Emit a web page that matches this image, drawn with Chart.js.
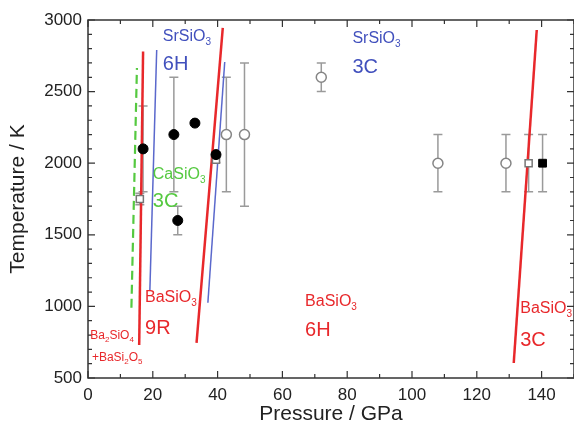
<!DOCTYPE html>
<html>
<head>
<meta charset="utf-8">
<script src="https://cdn.jsdelivr.net/npm/chart.js@4.4.0/dist/chart.umd.min.js"></script>
<style>
  html, body { margin: 0; padding: 0; background: #fff; overflow: hidden; }
  #wrap { width: 574px; height: 427px; position: relative; }
  canvas { display: block; }
</style>
</head>
<body>
<div id="wrap"><canvas id="chartPhase"></canvas></div>
<script>
(function() {
    'use strict';

    // tick labels
    var xTicks = [0, 20, 40, 60, 80, 100, 120, 140];
    var yTicks = [500, 1000, 1500, 2000, 2500, 3000];

    // measured points (pressure GPa, temperature K, +/- error K)
    var filledCircleP = [17, 26.5, 33, 39.5, 27.7];
    var filledCircleT = [2100, 2200, 2280, 2060, 1600];
    var filledCircleErr = [300, 400, 0, 20, 100];

    var openCircleP = [42.7, 48.3, 72, 108, 129];
    var openCircleT = [2200, 2200, 2600, 2000, 2000];
    var openCircleErr = [400, 500, 100, 200, 200];

    var openSquareP = [16, 39.5, 136];
    var openSquareT = [1750, 2025, 2000];
    var openSquareErr = [40, 20, 200];

    var filledSquareP = [140.3];
    var filledSquareT = [2000];
    var filledSquareErr = [200];

    // phase boundaries
    var caBoundaryP = [13.4, 15.1];
    var caBoundaryT = [990, 2665];
    var ba9RBoundaryP = [15.8, 17];
    var ba9RBoundaryT = [730, 2780];
    var sr6HLeftP = [19.1, 21.2];
    var sr6HLeftT = [1115, 2790];
    var ba6HBoundaryP = [33.5, 41.6];
    var ba6HBoundaryT = [745, 2945];
    var sr6HRightP = [37, 42.2];
    var sr6HRightT = [1025, 2707];
    var ba3CBoundaryP = [131.4, 138.5];
    var ba3CBoundaryT = [605, 2930];

    function pts(xs, ys) {
        return xs.map(function(x, i) { return { x: x, y: ys[i] }; });
    }

    var RED = '#e8282b', BLUE = '#4150bd', GREEN = '#55c940';
    var FONT = '"Liberation Sans", Arial, sans-serif';

    // phase-region labels, "_3" marks a subscript
    var labels = [
        { x: 23.1, y: 2881, text: 'SrSiO_3', size: 16, color: BLUE },
        { x: 23.1, y: 2686, text: '6H', size: 20, color: BLUE },
        { x: 81.6, y: 2867, text: 'SrSiO_3', size: 16, color: BLUE },
        { x: 81.6, y: 2665, text: '3C', size: 20, color: BLUE },
        { x: 20.0, y: 1918, text: 'CaSiO_3', size: 16, color: GREEN },
        { x: 20.0, y: 1736, text: '3C', size: 20, color: GREEN },
        { x: 17.6, y: 1059, text: 'BaSiO_3', size: 16, color: RED },
        { x: 17.6, y: 849, text: '9R', size: 20, color: RED },
        { x: 0.7, y: 793, text: 'Ba_2SiO_4', size: 12, color: RED },
        { x: 1.2, y: 640, text: '+BaSi_2O_5', size: 12, color: RED },
        { x: 67, y: 1031, text: 'BaSiO_3', size: 16, color: RED },
        { x: 67, y: 835, text: '6H', size: 20, color: RED },
        { x: 133.4, y: 982, text: 'BaSiO_3', size: 16, color: RED },
        { x: 133.4, y: 765, text: '3C', size: 20, color: RED }
    ];

    function drawLabel(ctx, x, y, text, size, color) {
        var parts = text.split(/(_\d)/);
        ctx.fillStyle = color;
        ctx.textBaseline = 'middle';
        ctx.textAlign = 'left';
        var cx = x;
        parts.forEach(function(p) {
            if (!p) return;
            if (p.charAt(0) === '_') {
                var s = Math.round(size * 0.65);
                ctx.font = s + 'px ' + FONT;
                ctx.fillText(p.slice(1), cx, y + size * 0.35);
                cx += ctx.measureText(p.slice(1)).width;
            } else {
                ctx.font = size + 'px ' + FONT;
                ctx.fillText(p, cx, y);
                cx += ctx.measureText(p).width;
            }
        });
    }

    var errorBars = {
        id: 'errorBars',
        beforeDatasetsDraw: function(chart) {
            var ctx = chart.ctx, xs = chart.scales.x, ys = chart.scales.y;
            ctx.save();
            ctx.strokeStyle = '#9a9a9a';
            ctx.lineWidth = 1.5;
            chart.data.datasets.forEach(function(ds) {
                if (!ds.err) return;
                ds.data.forEach(function(p, i) {
                    var e = ds.err[i];
                    if (!e) return;
                    var px = xs.getPixelForValue(p.x);
                    var top = ys.getPixelForValue(p.y + e);
                    var bot = ys.getPixelForValue(p.y - e);
                    ctx.beginPath();
                    ctx.moveTo(px, top); ctx.lineTo(px, bot);
                    ctx.moveTo(px - 4.5, top); ctx.lineTo(px + 4.5, top);
                    ctx.moveTo(px - 4.5, bot); ctx.lineTo(px + 4.5, bot);
                    ctx.stroke();
                });
            });
            ctx.restore();
        }
    };

    // box frame with inward major/minor ticks on all four sides, plus region labels
    var frame = {
        id: 'frame',
        afterDraw: function(chart) {
            var ctx = chart.ctx, a = chart.chartArea;
            var xs = chart.scales.x, ys = chart.scales.y;
            ctx.save();
            ctx.strokeStyle = '#333';
            ctx.lineWidth = 1.5;
            ctx.strokeRect(a.left, a.top, a.right - a.left, a.bottom - a.top);
            ctx.lineWidth = 1.2;
            ctx.beginPath();
            var v, px, len;
            for (v = 0; v <= 150; v += 10) {
                px = xs.getPixelForValue(v);
                len = v % 20 === 0 ? 7 : 4;
                ctx.moveTo(px, a.bottom); ctx.lineTo(px, a.bottom - len);
                ctx.moveTo(px, a.top); ctx.lineTo(px, a.top + len);
            }
            for (v = 500; v <= 3000; v += 100) {
                px = ys.getPixelForValue(v);
                len = v % 500 === 0 ? 7 : 4;
                ctx.moveTo(a.left, px); ctx.lineTo(a.left + len, px);
                ctx.moveTo(a.right, px); ctx.lineTo(a.right - len, px);
            }
            ctx.stroke();
            labels.forEach(function(l) {
                drawLabel(ctx, xs.getPixelForValue(l.x), ys.getPixelForValue(l.y), l.text, l.size, l.color);
            });
            ctx.restore();
        }
    };

    function boundary(xs, ys, color, width, dash) {
        return {
            data: pts(xs, ys),
            showLine: true,
            borderColor: color,
            borderWidth: width,
            borderDash: dash || [],
            pointRadius: 0,
            fill: false
        };
    }

    new Chart(document.getElementById('chartPhase'), {
        type: 'scatter',
        data: {
            datasets: [
                {
                    data: pts(filledCircleP, filledCircleT), err: filledCircleErr,
                    pointStyle: 'circle', pointRadius: 5,
                    backgroundColor: '#000', borderColor: '#000', borderWidth: 1
                },
                {
                    data: pts(filledSquareP, filledSquareT), err: filledSquareErr,
                    pointStyle: 'rect', pointRadius: 5.5,
                    backgroundColor: '#000', borderColor: '#000', borderWidth: 1
                },
                {
                    data: pts(openCircleP, openCircleT), err: openCircleErr,
                    pointStyle: 'circle', pointRadius: 5,
                    backgroundColor: '#fff', borderColor: '#858585', borderWidth: 1.5
                },
                {
                    data: pts(openSquareP, openSquareT), err: openSquareErr,
                    pointStyle: 'rect', pointRadius: 5,
                    backgroundColor: '#fff', borderColor: '#777', borderWidth: 1.5
                },
                boundary(ba9RBoundaryP, ba9RBoundaryT, RED, 2.5),
                boundary(ba6HBoundaryP, ba6HBoundaryT, RED, 2.5),
                boundary(ba3CBoundaryP, ba3CBoundaryT, RED, 2.5),
                boundary(sr6HLeftP, sr6HLeftT, '#5a68cc', 1.5),
                boundary(sr6HRightP, sr6HRightT, '#5a68cc', 1.5),
                boundary(caBoundaryP, caBoundaryT, GREEN, 2.2, [9, 5])
            ]
        },
        options: {
            responsive: true,
            maintainAspectRatio: false,
            animation: false,
            layout: { autoPadding: false, padding: { top: 20, right: -3, left: 0, bottom: 0 } },
            plugins: {
                legend: { display: false },
                tooltip: { enabled: false }
            },
            scales: {
                x: {
                    type: 'linear', min: 0, max: 150,
                    afterBuildTicks: function(s) { s.ticks = xTicks.map(function(v) { return { value: v }; }); },
                    afterFit: function(s) { s.height = 49; s.paddingLeft = 0; s.paddingRight = 0; },
                    grid: { display: false, drawTicks: false },
                    border: { display: false },
                    ticks: {
                        color: '#222', font: { size: 17, family: FONT }, padding: 7, maxRotation: 0,
                        callback: function(v) { return String(v); }
                    },
                    title: { display: true, text: 'Pressure / GPa', color: '#222', font: { size: 21, family: FONT }, padding: { top: 0, bottom: 0 } }
                },
                y: {
                    type: 'linear', min: 500, max: 3000,
                    afterBuildTicks: function(s) { s.ticks = yTicks.map(function(v) { return { value: v }; }); },
                    afterFit: function(s) { s.width = 88; s.paddingTop = 0; s.paddingBottom = 0; },
                    grid: { display: false, drawTicks: false },
                    border: { display: false },
                    ticks: {
                        color: '#222', font: { size: 17, family: FONT }, padding: 6,
                        callback: function(v) { return String(v); }
                    },
                    title: { display: true, text: 'Temperature / K', color: '#222', font: { size: 21, family: FONT }, padding: { top: 6, bottom: 0 } }
                }
            }
        },
        plugins: [errorBars, frame]
    });
})();
</script>
</body>
</html>
